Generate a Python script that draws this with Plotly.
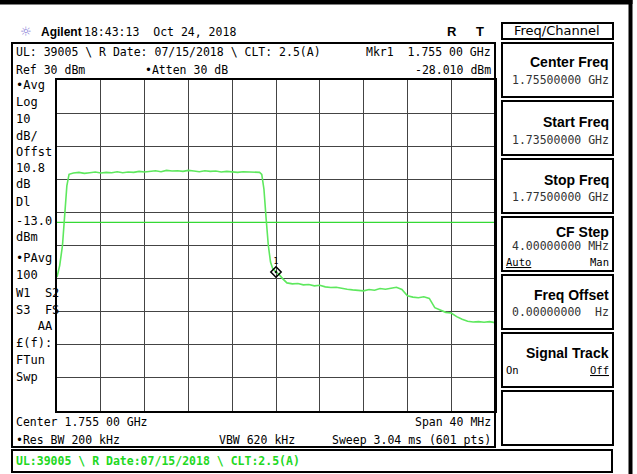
import plotly.graph_objects as go

W, H = 637, 474

# trace data (GHz, dBm)
freq_ghz = [
    1.7350, 1.73525, 1.7355, 1.7357, 1.7359, 1.7361, 1.7365,
    1.7370, 1.7375, 1.7380, 1.7385, 1.7390, 1.7395, 1.7400, 1.7405, 1.7410, 1.7415,
    1.7420, 1.7425, 1.7430, 1.7435, 1.7440, 1.7445, 1.7450, 1.7455, 1.7460, 1.7465,
    1.7470, 1.7475, 1.7480, 1.7485, 1.7490, 1.7495, 1.7500, 1.7505, 1.7510, 1.7515,
    1.7520, 1.7525, 1.7530, 1.7535, 1.7537,
    1.7539, 1.7541, 1.7543, 1.7545, 1.7547, 1.7550, 1.7553, 1.7556,
    1.7560, 1.7565, 1.7570, 1.7575, 1.7580, 1.7585, 1.7590, 1.7595, 1.7600, 1.7605,
    1.7610, 1.7615, 1.7620, 1.7625, 1.7630, 1.7635, 1.7640, 1.7645, 1.7650, 1.7655,
    1.7660, 1.7665, 1.7670, 1.7675, 1.7680, 1.7685, 1.7690, 1.7695, 1.7700, 1.7705,
    1.7710, 1.7715, 1.7720, 1.7725, 1.7730, 1.7735, 1.7740, 1.7745, 1.7750,
]
level_dbm = [
    -29.5, -26.0, -20.0, -12.0, -2.0, 1.5, 1.9,
    2.1, 1.8, 2.0, 2.2, 1.9, 2.1, 2.0, 2.3, 2.0, 2.2,
    2.1, 2.4, 2.2, 2.5, 2.6, 2.3, 2.7, 2.5, 2.6, 2.4,
    2.7, 2.5, 2.3, 2.6, 2.4, 2.5, 2.2, 2.4, 2.3, 2.1,
    2.3, 2.2, 2.0, 2.1, 1.5,
    -3.0, -12.0, -20.0, -25.0, -27.0, -28.01, -28.8, -30.0,
    -31.3, -31.6, -31.5, -31.9, -31.8, -32.2, -32.0, -32.5, -32.7, -32.6,
    -33.0, -33.2, -33.4, -33.6, -33.7, -33.3, -33.5, -33.0, -33.2, -32.9,
    -32.6, -33.3, -35.2, -35.6, -35.8, -35.5, -36.0, -38.8, -39.5, -40.2,
    -40.4, -41.5, -42.3, -42.9, -43.1, -43.0, -43.2, -43.0, -43.3,
]
display_line_dbm = -13.0
marker_freq = 1.755
marker_dbm = -28.01

left_labels = ["\u2022Avg", "Log", "10", "dB/", "Offst", "10.8", "dB", "Dl", "-13.0", "dBm",
               "\u2022PAvg", "100", "W1  S2", "S3  FS", "   AA", "\u00a3(f):", "FTun", "Swp"]
left_label_y = [85, 102, 119, 136, 152, 168, 184, 202, 221, 237, 258, 275, 293, 310, 326, 343, 360, 377]

softkey_titles = ["Center Freq", "Start Freq", "Stop Freq", "CF Step", "Freq Offset", "Signal Track", ""]
softkey_values = ["1.75500000 GHz", "1.73500000 GHz", "1.77500000 GHz", "4.00000000 MHz",
                  "0.00000000  Hz", "", ""]

MONO = "DejaVu Sans Mono"
SANS = "Liberation Sans"


def px(x):
    return x / W


def py(y):
    return 1 - y / H


fig = go.Figure()

fig.add_trace(go.Scatter(
    x=[freq_ghz[0], freq_ghz[-1]], y=[display_line_dbm, display_line_dbm],
    mode="lines", line=dict(color="#35d935", width=1.2), hoverinfo="skip", showlegend=False))
fig.add_trace(go.Scatter(
    x=freq_ghz, y=level_dbm, mode="lines",
    line=dict(color="#5ee85e", width=1.6), showlegend=False))
fig.add_trace(go.Scatter(
    x=[marker_freq], y=[marker_dbm], mode="markers+text", text=["1"],
    textposition="top center", textfont=dict(size=8, color="black", family=MONO),
    marker=dict(symbol="diamond-dot", size=8, color="rgba(0,0,0,0)",
                line=dict(color="black", width=1.5)),
    showlegend=False))

shapes = []


def box(x0, y0, x1, y1, width=2, fill=None, color="black"):
    shapes.append(dict(type="rect", xref="paper", yref="paper",
                       x0=px(x0), x1=px(x1), y0=py(y1), y1=py(y0),
                       line=dict(color=color, width=width),
                       fillcolor=fill or "rgba(0,0,0,0)", layer="above"))


# outer frame bits
box(0, 0, 632, 4, width=1, fill="black")
box(629, 0, 632, 474, width=1, fill="black")
# main panel and status bar
box(12, 43, 495, 447, width=2)
box(12, 450, 612, 472, width=2)
# Freq/Channel title
box(502, 23, 613, 39, width=2)
# soft keys
for i in range(len(softkey_titles)):
    top = 43 + 58 * i
    box(502, top, 613, top + 54, width=2)

ann = []


def text(x, y, s, size=11.5, family=MONO, color="black", anchor="left", bold=False):
    if bold:
        s = "<b>" + s + "</b>"
    ann.append(dict(x=px(x), y=py(y), xref="paper", yref="paper", text=s, showarrow=False,
                    xanchor=anchor, yanchor="middle",
                    font=dict(size=size, family=family, color=color)))


# header
text(18, 32, "\u263c", size=13, family="DejaVu Sans", color="#8a7fd6")
text(39, 32, "Agilent", size=12, family=SANS, bold=True)
text(82, 32, "18:43:13  Oct 24, 2018", size=11.5)
text(445, 32, "R", size=13, family=SANS, bold=True)
text(474, 32, "T", size=13, family=SANS, bold=True)
text(557, 31, "Freq/Channel", size=13, family="DejaVu Sans", anchor="center")

# panel text
text(14, 52, "UL: 39005 \\ R Date: 07/15/2018 \\ CLT: 2.5(A)")
text(14, 70, "Ref 30 dBm")
text(143, 70, "\u2022Atten 30 dB")
text(493, 52, "Mkr1  1.755 00 GHz", anchor="right")
text(493, 70, "-28.010 dBm", anchor="right")
for lab, yy in zip(left_labels, left_label_y):
    text(14, yy, lab, size=12)
text(14, 422, "Center 1.755 00 GHz")
text(493, 422, "Span 40 MHz", anchor="right")
text(14, 440, "\u2022Res BW 200 kHz")
text(217, 440, "VBW 620 kHz")
text(493, 440, "Sweep 3.04 ms (601 pts)", anchor="right")
text(14, 461, "UL:39005 \\ R Date:07/15/2018 \\ CLT:2.5(A)", color="#22d822", bold=True)

# soft key labels
title_y = [62, 122, 180, 232, 295, 353]
value_y = [80, 140, 197, 246, 312]
for title, yy in zip(softkey_titles, title_y):
    text(611, yy, title, size=14, family=SANS, anchor="right", bold=True)
for value, yy in zip(softkey_values, value_y):
    text(611, yy, value, size=11.5, color="#333333", anchor="right")
text(504, 262, "<u>Auto</u>", size=10.5)
text(611, 262, "Man", size=10.5, anchor="right")
text(504, 370, "On", size=10.5)
text(611, 370, "<u>Off</u>", size=10.5, anchor="right")

axis_common = dict(showgrid=True, gridcolor="#444444", gridwidth=1, zeroline=False,
                   showticklabels=False, ticks="", showline=True, linecolor="black",
                   linewidth=1.5, mirror=True, fixedrange=True)

fig.update_layout(
    width=W, height=H, autosize=False,
    margin=dict(l=0, r=0, t=0, b=0, pad=0),
    paper_bgcolor="white", plot_bgcolor="white",
    xaxis=dict(range=[1.735, 1.775], dtick=0.004, tick0=1.735,
               domain=[px(57), px(495)], **axis_common),
    yaxis=dict(range=[-70, 30], dtick=10, tick0=-70,
               domain=[py(411), py(80)], **axis_common),
    shapes=shapes, annotations=ann, showlegend=False,
)

fig.write_html("out.html", config={"displayModeBar": False},
               post_script="document.body.style.margin='0';")
